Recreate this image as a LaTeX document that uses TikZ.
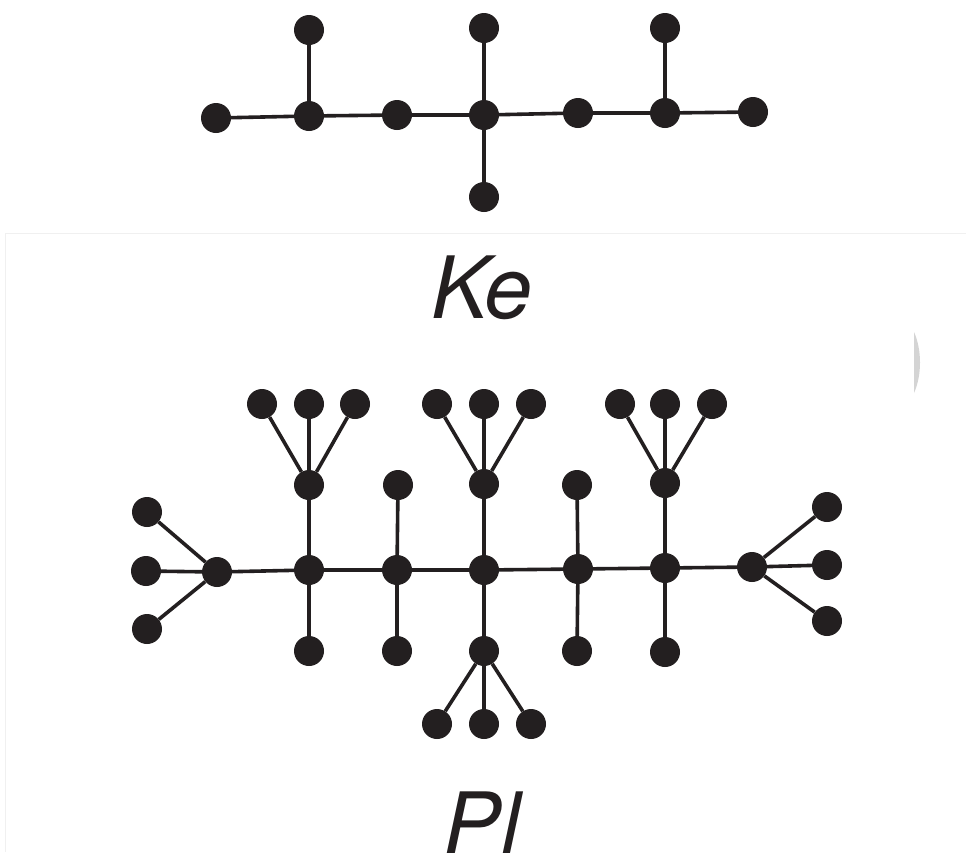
\documentclass[tikz,border=0pt]{standalone}
\usepackage{fontspec}
\setmainfont{TeX Gyre Heros}
\definecolor{ink}{HTML}{231F20}
\begin{document}
\begin{tikzpicture}[x=1pt,y=-1pt,
  dot/.style={circle,fill=ink,minimum size=30pt,inner sep=0pt},
  edge/.style={draw=ink,line width=3.6pt},
  lbl/.style={anchor=base,text=ink,font=\fontsize{86}{90}\selectfont\itshape}]
\useasboundingbox (0,0) rectangle (974,852);
\fill[white] (0,0) rectangle (974,852);
% faint screenshot artefacts
\draw[black!6,line width=0.8pt] (5,852) -- (5,233) -- (966,233);
\fill[black!17] (914,332) .. controls (922,350) and (922,375) .. (914,393) -- cycle;

% ---------- Ke ----------
\node[dot] (a1) at (216,118) {};
\node[dot] (a2) at (309,116) {};
\node[dot] (a3) at (397,115) {};
\node[dot] (a4) at (484,115) {};
\node[dot] (a5) at (578,113) {};
\node[dot] (a6) at (665,113) {};
\node[dot] (a7) at (753,112) {};
\node[dot] (a2u) at (309,30) {};
\node[dot] (a4u) at (484,28) {};
\node[dot] (a4d) at (484,197) {};
\node[dot] (a6u) at (665,28) {};
\draw[edge] (a1) -- (a2) -- (a3) -- (a4) -- (a5) -- (a6) -- (a7);
\draw[edge] (a2) -- (a2u);
\draw[edge] (a4u) -- (a4) -- (a4d);
\draw[edge] (a6) -- (a6u);
\node[lbl] (ke) at (482,318) {Ke};

% ---------- Pl ----------
\node[dot] (b1) at (217,572) {};
\node[dot] (b2) at (309,570) {};
\node[dot] (b3) at (397,570) {};
\node[dot] (b4) at (484,570) {};
\node[dot] (b5) at (578,569) {};
\node[dot] (b6) at (665,568) {};
\node[dot] (b7) at (752,567) {};
% left fan
\node[dot] (l1) at (147,512) {};
\node[dot] (l2) at (146,571) {};
\node[dot] (l3) at (147,629) {};
% right fan
\node[dot] (r1) at (827,507) {};
\node[dot] (r2) at (827,565) {};
\node[dot] (r3) at (827,621) {};
% verticals
\node[dot] (b2u) at (309,485) {};
\node[dot] (b2d) at (309,651) {};
\node[dot] (b3u) at (398,485) {};
\node[dot] (b3d) at (397,651) {};
\node[dot] (b4u) at (484,484) {};
\node[dot] (b4d) at (484,651) {};
\node[dot] (b5u) at (577,485) {};
\node[dot] (b5d) at (577,651) {};
\node[dot] (b6u) at (665,483) {};
\node[dot] (b6d) at (665,652) {};
% top fans
\node[dot] (t21) at (262,404) {};
\node[dot] (t22) at (309,404) {};
\node[dot] (t23) at (355,404) {};
\node[dot] (t41) at (437,404) {};
\node[dot] (t42) at (484,404) {};
\node[dot] (t43) at (531,404) {};
\node[dot] (t61) at (620,404) {};
\node[dot] (t62) at (665,404) {};
\node[dot] (t63) at (712,404) {};
% bottom fan
\node[dot] (d41) at (437,724) {};
\node[dot] (d42) at (484,724) {};
\node[dot] (d43) at (531,724) {};

\draw[edge] (b1) -- (b2) -- (b3) -- (b4) -- (b5) -- (b6) -- (b7);
\draw[edge] (b1) -- (l1) (b1) -- (l2) (b1) -- (l3);
\draw[edge] (b7) -- (r1) (b7) -- (r2) (b7) -- (r3);
\draw[edge] (b2u) -- (b2) -- (b2d);
\draw[edge] (b3u) -- (b3) -- (b3d);
\draw[edge] (b4u) -- (b4) -- (b4d);
\draw[edge] (b5u) -- (b5) -- (b5d);
\draw[edge] (b6u) -- (b6) -- (b6d);
\draw[edge] (b2u) -- (t21) (b2u) -- (t22) (b2u) -- (t23);
\draw[edge] (b4u) -- (t41) (b4u) -- (t42) (b4u) -- (t43);
\draw[edge] (b6u) -- (t61) (b6u) -- (t62) (b6u) -- (t63);
\draw[edge] (b4d) -- (d41) (b4d) -- (d42) (b4d) -- (d43);
\node[lbl] (pl) at (482,854) {Pl};
\end{tikzpicture}
\end{document}
